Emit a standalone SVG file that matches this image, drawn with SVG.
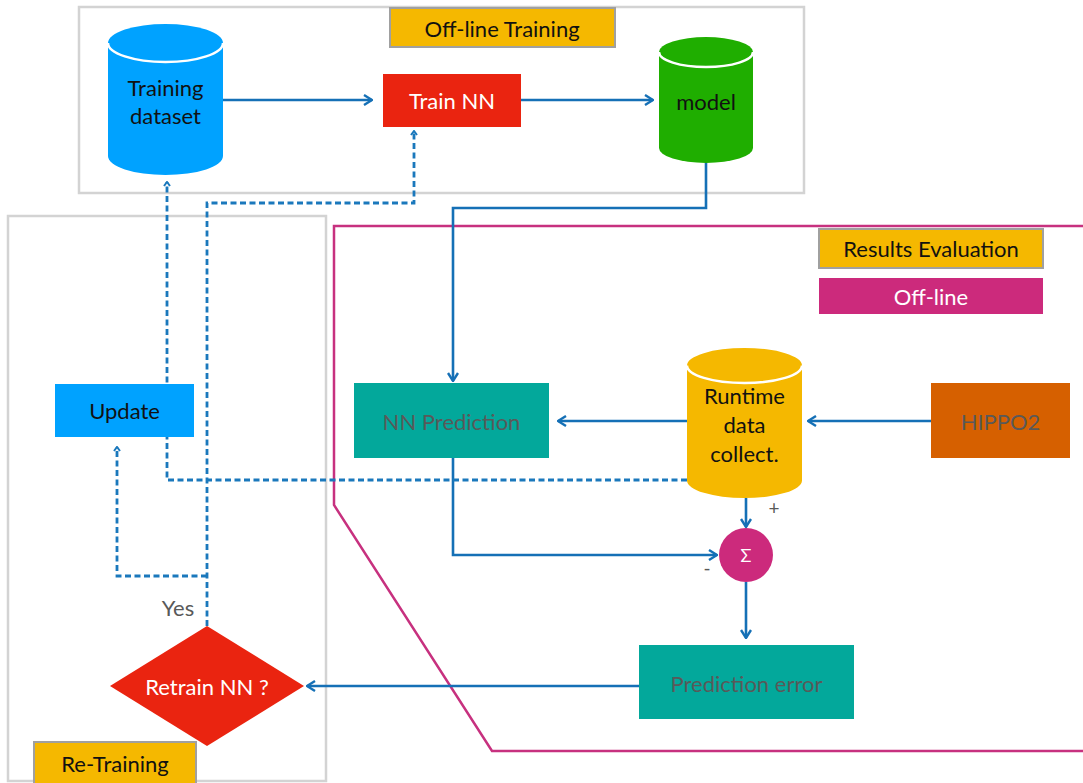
<svg xmlns="http://www.w3.org/2000/svg" width="1083" height="783" viewBox="0 0 1083 783">
<defs>
<style>
text{font-family:Lato,"Open Sans","Liberation Sans",sans-serif;font-size:22px;text-anchor:middle;dominant-baseline:central}
.dark{fill:#111}
.white{fill:#fff}
.gray{fill:#595959}
.frame{fill:none;stroke:#d3d3d3;stroke-width:2.5}
.label{fill:#f5b800;stroke:#a0a0a0;stroke-width:2}
.conn{fill:none;stroke:#1570b6;stroke-width:2.6}
.dash{fill:none;stroke:#1a78bc;stroke-width:2.8;stroke-dasharray:6 3.5}
.lid{fill:none;stroke:#fff;stroke-width:2.5}
</style>
<marker id="arr" viewBox="0 0 10 12" refX="9" refY="6" markerWidth="10" markerHeight="12" markerUnits="userSpaceOnUse" orient="auto">
<path d="M1,1 L9,6 L1,11" fill="none" stroke="#1570b6" stroke-width="2.4"/>
</marker>
<marker id="arrs" viewBox="0 0 6 8" refX="5" refY="4" markerWidth="6" markerHeight="8" markerUnits="userSpaceOnUse" orient="auto">
<path d="M1,1 L5,4 L1,7" fill="none" stroke="#1a78bc" stroke-width="2"/>
</marker>
</defs>
<rect width="1083" height="783" fill="#fff"/>
<g id="frames">
<rect class="frame" x="79" y="7" width="725" height="186"/>
<rect class="frame" x="8" y="216" width="318" height="565"/>
<path d="M1083,226 H334 V505 L492,751 H1083" fill="none" stroke="#c7317f" stroke-width="2.5"/>
</g>
<g id="connectors">
<path class="conn" d="M223,100 H372" marker-end="url(#arr)"/>
<path class="conn" d="M521,100 H653" marker-end="url(#arr)"/>
<path class="conn" d="M706,163 V208 H453 V381" marker-end="url(#arr)"/>
<path class="conn" d="M687,421 H558" marker-end="url(#arr)"/>
<path class="conn" d="M931,421 H808" marker-end="url(#arr)"/>
<path class="conn" d="M746,498 V527" marker-end="url(#arr)"/>
<path class="conn" d="M453,458 V555 H717" marker-end="url(#arr)"/>
<path class="conn" d="M746,582 V638" marker-end="url(#arr)"/>
<path class="conn" d="M639,686 H307" marker-end="url(#arr)"/>
<path class="dash" d="M687,480 H167 V182" marker-end="url(#arrs)"/>
<path class="dash" d="M207,626 V203 H414 V131" marker-end="url(#arrs)"/>
<path class="dash" d="M207,576 H117 V447" marker-end="url(#arrs)"/>
</g>
<g id="label-offline-training">
<rect class="label" x="390" y="8" width="225" height="39"/>
<text class="dark" x="502" y="28">Off-line Training</text>
</g>
<g id="training-dataset">
<path d="M108,43 A57.5,19 0 0 1 223,43 L223,156 A57.5,19 0 0 1 108,156 Z" fill="#00a2ff"/>
<path class="lid" d="M108,43 A57.5,19 0 0 0 223,43"/>
<text class="dark" x="165.5" y="87">Training</text>
<text class="dark" x="165.5" y="115">dataset</text>
</g>
<g id="train-nn">
<rect x="383" y="74" width="138" height="53" fill="#ea2410"/>
<text class="white" x="452" y="100">Train NN</text>
</g>
<g id="model">
<path d="M659,52 A47,15 0 0 1 753,52 L753,148 A47,15 0 0 1 659,148 Z" fill="#1fae00"/>
<path class="lid" d="M659,52 A47,15 0 0 0 753,52"/>
<text class="dark" x="706" y="101">model</text>
</g>
<g id="label-results-evaluation">
<rect class="label" x="819" y="229" width="224" height="39"/>
<text class="dark" x="931" y="248">Results Evaluation</text>
</g>
<g id="label-offline">
<rect x="819" y="278" width="224" height="36" fill="#cc2a7c"/>
<text class="white" x="931" y="296">Off-line</text>
</g>
<g id="update">
<rect x="55" y="384" width="139" height="53" fill="#00a2ff"/>
<text class="dark" x="124.5" y="410">Update</text>
</g>
<g id="nn-prediction">
<rect x="354" y="383" width="195" height="75" fill="#03a89b"/>
<text class="gray" x="451.5" y="421">NN Prediction</text>
</g>
<g id="runtime-data">
<path d="M687,365.5 A57.5,17.5 0 0 1 802,365.5 L802,480.5 A57.5,17.5 0 0 1 687,480.5 Z" fill="#f5b800"/>
<path class="lid" d="M687,365.5 A57.5,17.5 0 0 0 802,365.5"/>
<text class="dark" x="744.5" y="395">Runtime</text>
<text class="dark" x="744.5" y="424">data</text>
<text class="dark" x="744.5" y="453">collect.</text>
</g>
<g id="hippo2">
<rect x="931" y="383" width="139" height="75" fill="#d66000"/>
<text class="gray" x="1000.5" y="421">HIPPO2</text>
</g>
<g id="sigma">
<circle cx="746" cy="555" r="27" fill="#cc2a7c"/>
<text class="white" x="746" y="555" style="font-size:18px">Σ</text>
<text class="gray" x="774" y="507" style="font-size:19px">+</text>
<text class="gray" x="707" y="567" style="font-size:19px">-</text>
</g>
<g id="prediction-error">
<rect x="639" y="645" width="215" height="74" fill="#03a89b"/>
<text class="gray" x="746.5" y="683">Prediction error</text>
</g>
<g id="retrain-nn">
<polygon points="207,626 304,686 207,746 110,686" fill="#ea2410"/>
<text class="white" x="207" y="686">Retrain NN ?</text>
<text class="gray" x="178" y="607">Yes</text>
</g>
<g id="label-retraining">
<rect class="label" x="34" y="742" width="162" height="45"/>
<text class="dark" x="115" y="763">Re-Training</text>
</g>
</svg>
